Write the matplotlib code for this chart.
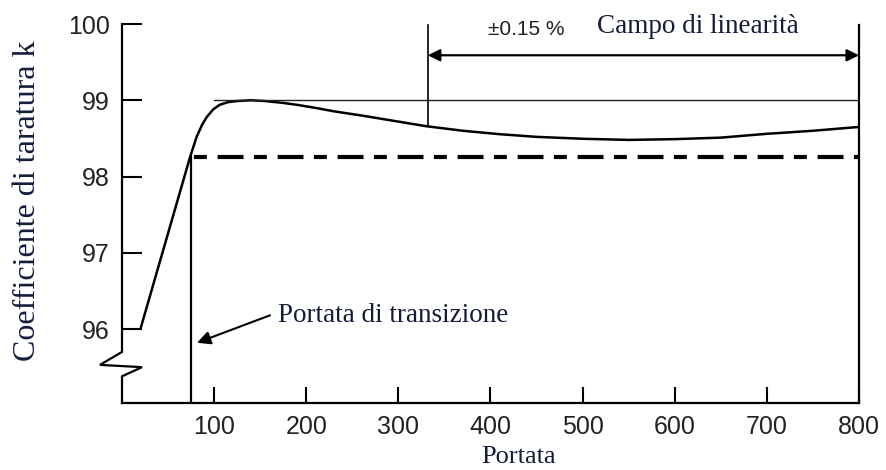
import matplotlib
matplotlib.use('Agg')
import matplotlib.pyplot as plt

# curve (portata, coefficiente k)
portata = [20, 74, 81, 87, 92, 99, 106, 115, 125, 140, 155, 175, 190, 210, 230,
           260, 300, 330, 370, 410, 450, 500, 550, 600, 650, 700, 750, 800]
coeff_k = [96.0, 98.26, 98.52, 98.68, 98.78, 98.88, 98.94, 98.975, 98.99, 99.0,
           98.99, 98.965, 98.94, 98.9, 98.855, 98.8, 98.72, 98.66, 98.6, 98.555,
           98.52, 98.495, 98.48, 98.49, 98.51, 98.56, 98.6, 98.65]

x_ticks = [100, 200, 300, 400, 500, 600, 700, 800]
y_ticks = [96, 97, 98, 99, 100]

k_max = 99.0          # linea sottile superiore
k_transizione = 98.26  # linea tratteggiata
q_transizione = 75
q_lin_start = 332
q_lin_end = 800

serif = 'Liberation Serif'
sans = 'Liberation Sans'
txt_col = '#141c3c'

fig = plt.figure(figsize=(8.87, 4.70), dpi=100)
ax = fig.add_axes([122 / 887, 1 - 403 / 470, (859 - 122) / 887, (403 - 24) / 470])
ax.set_xlim(0, 800)
ax.set_ylim(95.03, 100)

# curva
ax.plot(portata, coeff_k, color='black', lw=1.8, solid_capstyle='butt')

# linea k massimo e linea tratteggiata (lungo - corto)
ax.plot([100, 800], [k_max, k_max], color='#222222', lw=1.0)
ax.plot([q_transizione, 800], [k_transizione, k_transizione], color='black', lw=3,
        linestyle=(8.0, (6.2, 2.5, 3.1, 2.6)), dash_capstyle='butt')

# linee verticali
ax.plot([q_transizione, q_transizione], [95.03, k_transizione], color='black', lw=1.6)
ax.plot([q_lin_start, q_lin_start], [99.99, 98.66], color='black', lw=1.2)
ax.plot([q_lin_end, q_lin_end], [99.99, 95.03], color='black', lw=1.6, clip_on=False)

# freccia doppia campo di linearità
ax.annotate('', xy=(q_lin_start, 99.59), xytext=(q_lin_end, 99.59),
            arrowprops=dict(arrowstyle='<|-|>', lw=1.6, color='black',
                            mutation_scale=18, shrinkA=0, shrinkB=0))
ax.text(397, 99.86, '±0.15 %', fontsize=15, family=sans, color='#222222', va='baseline')
ax.text(515.6, 99.88, 'Campo di linearità', fontsize=19.5, family=serif,
        color=txt_col, va='baseline')

# freccia portata di transizione
ax.annotate('', xy=(81.4, 95.82), xytext=(160.7, 96.18),
            arrowprops=dict(arrowstyle='-|>', lw=1.5, color='black',
                            mutation_scale=20, shrinkA=0, shrinkB=0))
ax.text(169.3, 96.09, 'Portata di transizione', fontsize=19.5, family=serif,
        color=txt_col, va='baseline')

# asse y con interruzione
for side in ['left', 'top', 'right']:
    ax.spines[side].set_visible(False)
ax.spines['bottom'].set_linewidth(1.6)
ax.plot([0, 0, -23.9, 21.7, 0, 0], [100, 95.70, 95.53, 95.50, 95.38, 95.03],
        color='black', lw=1.6, clip_on=False, solid_joinstyle='miter')

ax.set_xticks(x_ticks)
ax.set_yticks(y_ticks)
ax.tick_params(axis='y', direction='in', length=14.5, width=1.5, pad=8.6,
               labelsize=18, labelfontfamily=sans, labelcolor='#222222')
ax.tick_params(axis='x', direction='in', length=11.5, width=1.5, pad=8.6,
               labelsize=18, labelfontfamily=sans, labelcolor='#222222')

fig.text(519 / 887, 1 - 463 / 470, 'Portata', fontsize=19, family=serif,
         color=txt_col, ha='center', va='baseline')
fig.text(28 / 887, 1 - 201 / 470, 'Coefficiente di taratura k', fontsize=23,
         family=serif, color=txt_col, rotation=90, ha='center', va='center')

fig.savefig('out.png', dpi=100)
